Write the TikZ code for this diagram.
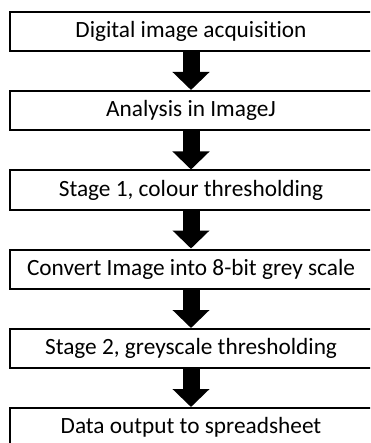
\documentclass[tikz,border=0pt]{standalone}
\usepackage{fontspec}
\setmainfont[Ligatures={NoCommon}]{Carlito}
\usetikzlibrary{arrows.meta}
\begin{document}
\begin{tikzpicture}[x=1pt,y=1pt,
  stepbox/.style={draw=black,line width=2pt,fill=white,minimum width=362pt,minimum height=39pt,inner sep=0pt,font=\fontsize{23.3}{26}\selectfont,anchor=north west},
  flowarrow/.style={line width=17pt,-{Triangle[width=36pt,length=18pt]}}]
\clip (0,0) rectangle (370,-443);
\useasboundingbox (0,0) rectangle (370,-443);
\node[stepbox] (b1) at (9,-11) {Digital image acquisition};
\node[stepbox] (b2) at (9,-90) {Analysis in ImageJ};
\node[stepbox] (b3) at (9,-169.5) {Stage 1, colour thresholding};
\node[stepbox] (b4) at (9,-248.5) {Convert Image into 8-bit grey scale};
\node[stepbox] (b5) at (9,-328) {Stage 2, greyscale thresholding};
\node[stepbox] (b6) at (9,-407) {Data output to spreadsheet};
\draw[flowarrow] (b1.south) -- (b2.north);
\draw[flowarrow] (b2.south) -- (b3.north);
\draw[flowarrow] (b3.south) -- (b4.north);
\draw[flowarrow] (b4.south) -- (b5.north);
\draw[flowarrow] (b5.south) -- (b6.north);
\end{tikzpicture}
\end{document}
